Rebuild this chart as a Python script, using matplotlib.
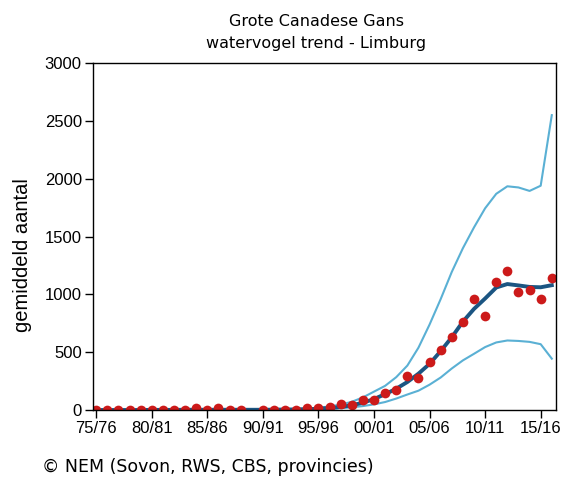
import matplotlib
matplotlib.use("Agg")
import matplotlib.pyplot as plt
import numpy as np

# seasons 1975/76 .. 2016/17
seasons = np.arange(1975, 2017)
tick_years = [1975, 1980, 1985, 1990, 1995, 2000, 2005, 2010, 2015]
tick_labels = ['75/76', '80/81', '85/86', '90/91', '95/96', '00/01', '05/06', '10/11', '15/16']

# counted means (1989/90 missing)
counts = [0, 0, 0, 0, 0, 0, 0, 0, 0, 15, 0, 20, 0, 0, np.nan,
          0, 0, 0, 5, 15, 18, 30, 57, 43, 90, 90, 144, 175, 295, 282,
          418, 522, 630, 760, 960, 810, 1110, 1200, 1020, 1035, 960, 1140]

trend = [1, 1, 1, 1, 1, 2, 2, 2, 3, 3, 3, 3, 3, 3, 3,
         3, 4, 5, 6, 8, 12, 18, 27, 42, 64, 96, 138, 185, 243, 315,
         400, 510, 630, 765, 875, 965, 1060, 1090, 1078, 1065, 1062, 1080]

upper = [2, 2, 2, 2, 2, 3, 3, 3, 4, 4, 4, 4, 4, 4, 5,
         5, 6, 7, 10, 14, 21, 32, 48, 72, 110, 160, 210, 285, 385, 540,
         740, 960, 1195, 1400, 1580, 1745, 1870, 1935, 1925, 1895, 1940, 2550]

lower = [0, 0, 0, 0, 0, 1, 1, 1, 1, 1, 1, 1, 1, 1, 1,
         1, 2, 3, 4, 5, 8, 12, 17, 24, 35, 50, 70, 100, 135, 168,
         220, 282, 360, 430, 487, 545, 585, 602, 598, 590, 570, 445]

fig = plt.figure(figsize=(5.63, 4.78), dpi=100)
ax = fig.add_axes([0.165, 0.142, 0.823, 0.726])

ax.plot(seasons, upper, color='#5ab0d4', lw=1.5)
ax.plot(seasons, lower, color='#5ab0d4', lw=1.5)
ax.plot(seasons, trend, color='#1b5582', lw=2.8)
ax.plot(seasons, counts, 'o', color='#cc1a1a', ms=7, mec='none')

ax.set_xlim(1974.7, 2016.4)
ax.set_ylim(0, 3000)
ax.set_yticks(range(0, 3001, 500))
ax.set_xticks(tick_years)
ax.set_xticklabels(tick_labels)
ax.tick_params(direction='out', length=6, width=1, labelsize=12, pad=2)
for lab in ax.get_xticklabels() + ax.get_yticklabels():
    lab.set_fontfamily('Liberation Sans')
for s in ax.spines.values():
    s.set_linewidth(1)

ax.set_ylabel('gemiddeld aantal', fontsize=14.5, family='Liberation Sans')
ax.yaxis.set_label_coords(-0.131, 0.447)
fig.text(0.562, 0.956, 'Grote Canadese Gans', ha='center', va='center', fontsize=11.5)
fig.text(0.562, 0.908, 'watervogel trend - Limburg', ha='center', va='center', fontsize=11.5)
fig.text(0.075, 0.023, '\u00a9 NEM (Sovon, RWS, CBS, provincies)', fontsize=12.5, va='center')

fig.savefig('out.png', dpi=100)
